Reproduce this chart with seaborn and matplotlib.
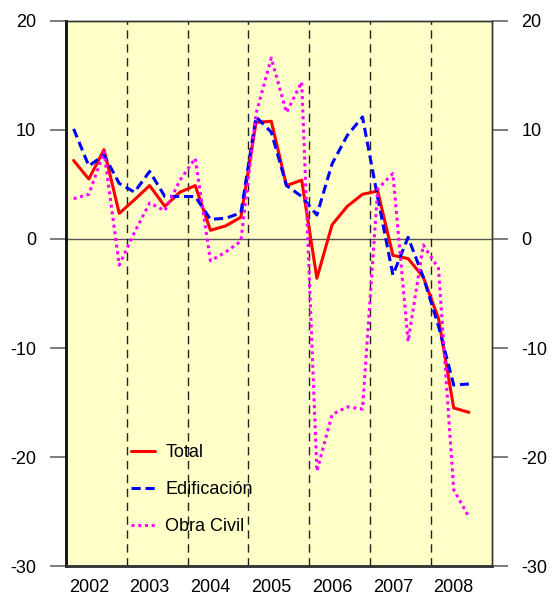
# import libraries
import numpy as np
import pandas as pd
import matplotlib
matplotlib.use('Agg')
import matplotlib.pyplot as plt
import seaborn as sns

# quarterly data, 2002-T1 .. 2008-T3
years = [2002] * 4 + [2003] * 4 + [2004] * 4 + [2005] * 4 + [2006] * 4 + [2007] * 4 + [2008] * 3
quarters = [1, 2, 3, 4] * 6 + [1, 2, 3]

total = [7.2, 5.5, 8.2, 2.35, 3.6, 4.9, 3.0, 4.3, 4.9, 0.8, 1.2, 2.0,
         10.7, 10.8, 4.9, 5.4, -3.6, 1.3, 3.0, 4.1, 4.4, -1.5, -1.8, -3.5,
         -7.3, -15.5, -15.9]
edificacion = [10.1, 6.7, 7.7, 5.1, 4.3, 6.2, 3.9, 3.9, 3.9, 1.8, 1.9, 2.4,
               11.2, 9.8, 4.9, 3.9, 2.2, 6.9, 9.5, 11.2, 3.8, -3.3, 0.15, -3.5,
               -8.0, -13.4, -13.3]
obra_civil = [3.7, 4.1, 8.0, -2.4, 0.6, 3.3, 2.6, 5.4, 7.4, -2.0, -1.2, -0.2,
              11.5, 16.6, 11.6, 14.4, -21.3, -16.1, -15.4, -15.6, 4.6, 6.0, -9.4, -0.55,
              -2.7, -23.0, -25.5]

year_labels = ['2002', '2003', '2004', '2005', '2006', '2007', '2008']
y_ticks = [20, 10, 0, -10, -20, -30]

# building dataframe
data = pd.DataFrame({'year': years, 'quarter': quarters,
                     'Total': total, 'Edificación': edificacion,
                     'Obra Civil': obra_civil})
data['x'] = data['year'] + (data['quarter'] - 0.5) / 4

# style
sns.set_style('white')
plt.rcParams['font.family'] = ['Liberation Sans', 'DejaVu Sans']
plt.rcParams['text.color'] = 'black'
plt.rcParams['xtick.color'] = 'black'
plt.rcParams['ytick.color'] = 'black'

fig = plt.figure(figsize=(5.52, 5.96), dpi=100)
ax = fig.add_axes([0.1196, 0.0503, 0.7712, 0.9145])
ax.set_facecolor('#FFFFC8')

# series
styles = {'Total': ('#FF0000', '-'),
          'Edificación': ('#0000FF', (0, (3, 1.6))),
          'Obra Civil': ('#FF00FF', (0, (1, 1.2)))}
for name, (color, ls) in styles.items():
    sns.lineplot(data=data, x='x', y=name, ax=ax, color=color,
                 linestyle=ls, linewidth=2.2, label=name)

# reference lines
ax.axhline(0, color='#555555', linewidth=1, zorder=1)
for yr in year_labels[1:]:
    ax.axvline(int(yr), color='#222222', linewidth=1,
               linestyle=(0, (6, 4)), zorder=1)

# axes
ax.set_xlim(2002, 2009)
ax.set_ylim(-30, 20)
ax.set_xlabel('')
ax.set_ylabel('')
ax.set_xticks([int(y) + 0.375 for y in year_labels])
ax.set_xticklabels(year_labels, fontsize=13)
ax.tick_params(axis='x', length=0, pad=9, labelcolor='black')
ax.set_yticks(y_ticks)
ax.set_yticklabels([str(v) for v in y_ticks], fontsize=13)
ax.tick_params(axis='y', direction='out', length=11.5, width=1.2,
               color='#666666', pad=10, left=True, labelcolor='black')

# right axis duplicating the left
ax2 = ax.twinx()
ax2.set_ylim(-30, 20)
ax2.set_yticks(y_ticks)
ax2.set_yticklabels([str(v) for v in y_ticks], fontsize=13)
ax2.tick_params(axis='y', direction='out', length=11.5, width=1.2,
                color='#666666', pad=10, right=True, labelcolor='black')

for a in (ax, ax2):
    a.spines['left'].set_color('#111111')
    a.spines['left'].set_linewidth(1.8)
    a.spines['bottom'].set_color('#333333')
    a.spines['bottom'].set_linewidth(1.8)
    a.spines['right'].set_color('#333333')
    a.spines['right'].set_linewidth(1)
    a.spines['top'].set_color('#333333')
    a.spines['top'].set_linewidth(1)

# legend
leg = ax.legend(loc='upper left', bbox_to_anchor=(0.153, 0.224), frameon=False,
                fontsize=13, handlelength=1.3, handletextpad=0.6,
                labelspacing=1.12, borderpad=0, borderaxespad=0)
for t in leg.get_texts():
    t.set_color('black')

plt.savefig('out.png', dpi=100)
